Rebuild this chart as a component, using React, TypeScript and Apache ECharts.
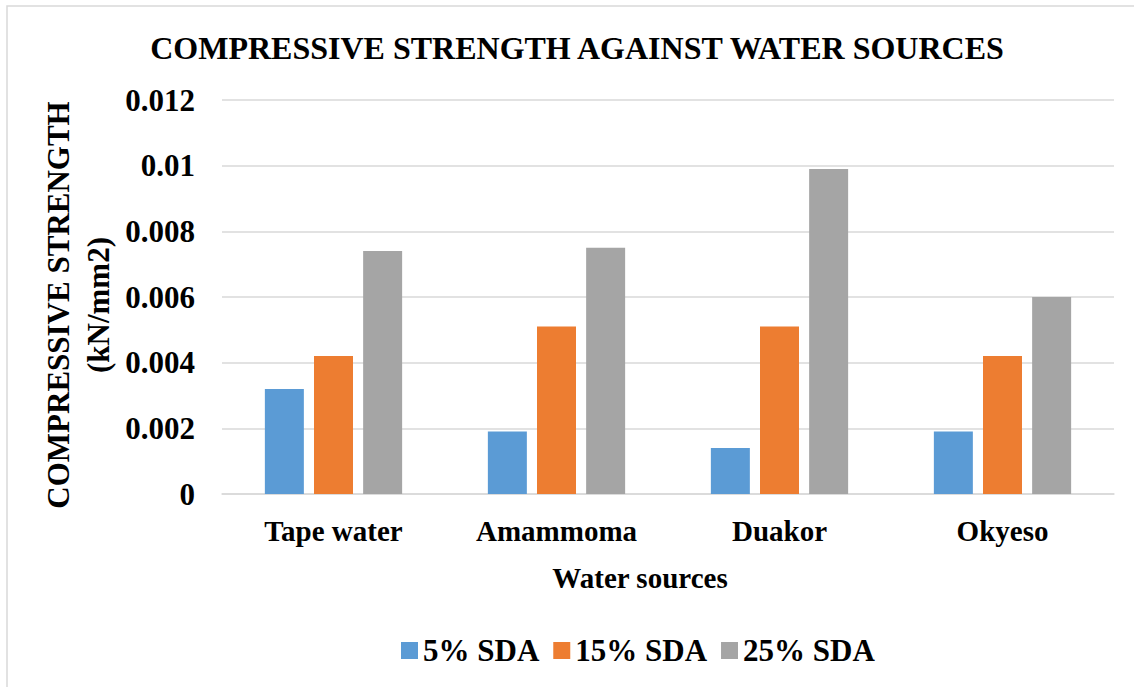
import React, { useEffect, useRef } from "react";
import * as echarts from "echarts";

// Water sources on the category axis
const categories = ["Tape water", "Amammoma", "Duakor", "Okyeso"];

// Compressive strength (kN/mm2) per SDA replacement level
const sda5 = [0.0032, 0.0019, 0.0014, 0.0019];
const sda15 = [0.0042, 0.0051, 0.0051, 0.0042];
const sda25 = [0.0074, 0.0075, 0.0099, 0.006];

const seriesNames = ["5% SDA", "15% SDA", "25% SDA"];
const colors = ["#5B9BD5", "#ED7D31", "#A5A5A5"];

const FONT = "Liberation Serif";

export default function App() {
  const ref = useRef<HTMLDivElement>(null);

  useEffect(() => {
    if (!ref.current) return;
    const chart = echarts.init(ref.current, null, { renderer: "svg" });
    const values = [sda5, sda15, sda25];

    const txt = (size: number) => ({
      fontFamily: FONT,
      fontWeight: "bold" as const,
      fontSize: size,
      color: "#000",
    });

    chart.setOption({
      animation: false,
      backgroundColor: "#ffffff",
      textStyle: { fontFamily: FONT, fontWeight: "bold", color: "#000" },
      title: {
        text: "COMPRESSIVE STRENGTH AGAINST WATER SOURCES",
        left: 572,
        top: 27,
        textAlign: "center",
        textStyle: txt(32),
      },
      legend: {
        left: 396,
        top: 630,
        itemWidth: 17,
        itemHeight: 17,
        itemGap: 14,
        icon: "rect",
        textStyle: { ...txt(31), padding: [0, 0, 0, 0] },
        data: seriesNames,
      },
      grid: {
        left: 222,
        right: 20,
        top: 100,
        bottom: 193,
        containLabel: false,
      },
      xAxis: {
        type: "category",
        data: categories,
        axisLine: { show: true, lineStyle: { color: "#D9D9D9", width: 1.5 } },
        axisTick: { show: false },
        axisLabel: { ...txt(29), margin: 22 },
      },
      yAxis: {
        type: "value",
        min: 0,
        max: 0.012,
        interval: 0.002,
        axisLine: { show: false },
        axisTick: { show: false },
        splitLine: { lineStyle: { color: "#D9D9D9", width: 1.5 } },
        axisLabel: { ...txt(31), margin: 27 },
      },
      graphic: [
        {
          type: "rect",
          shape: { x: 7, y: 6, width: 1200, height: 800 },
          style: { fill: "none", stroke: "#D9D9D9", lineWidth: 1.5 },
          silent: true,
        },
        {
          type: "text",
          x: 640,
          y: 578,
          style: {
            text: "Water sources",
            fontFamily: FONT,
            fontWeight: "bold",
            fontSize: 29,
            fill: "#000",
            textAlign: "center",
            textVerticalAlign: "middle",
          },
        },
        {
          type: "text",
          x: 78,
          y: 305,
          rotation: Math.PI / 2,
          style: {
            text: "COMPRESSIVE STRENGTH\n(kN/mm2)",
            fontFamily: FONT,
            fontWeight: "bold",
            fontSize: 31,
            fill: "#000",
            textAlign: "center",
            textVerticalAlign: "middle",
            lineHeight: 40,
          },
        },
      ],
      series: seriesNames.map((name, i) => ({
        name,
        type: "bar",
        data: values[i],
        barWidth: 39,
        barGap: "26%",
        itemStyle: { color: colors[i] },
      })),
    });

    return () => chart.dispose();
  }, []);

  return (
    <div
      ref={ref}
      style={{ position: "fixed", left: 0, top: 0, width: 1134, height: 687 }}
    />
  );
}
